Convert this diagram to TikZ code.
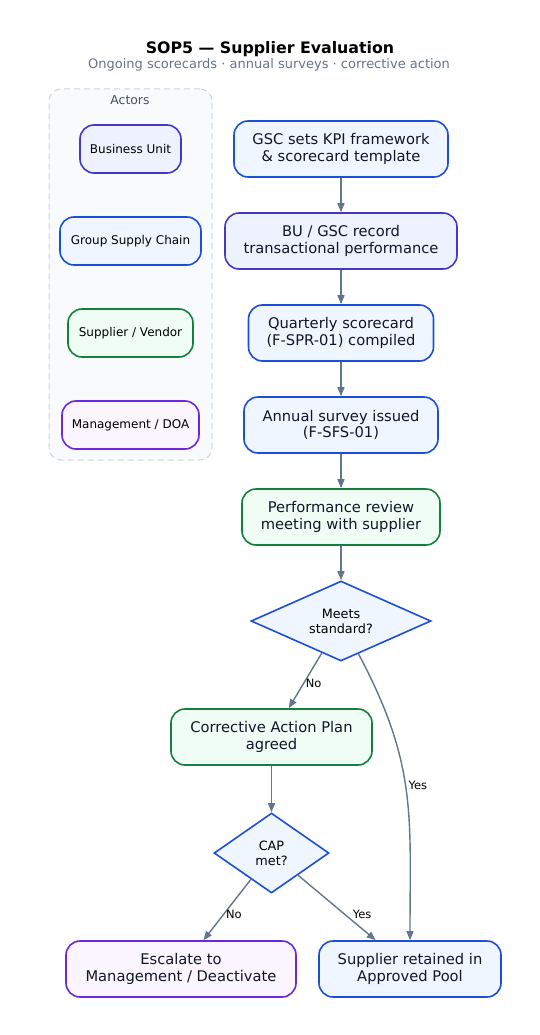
\documentclass[tikz,border=0pt]{standalone}
\usepackage{fontspec}
\setmainfont{DejaVu Sans}
\usetikzlibrary{shapes.geometric,arrows.meta}
\definecolor{txt}{HTML}{0F172A}
\definecolor{sub}{HTML}{64748B}
\definecolor{arr}{HTML}{64748B}
\definecolor{bluD}{HTML}{1D4ED8}\definecolor{bluF}{HTML}{EFF6FF}
\definecolor{indD}{HTML}{4338CA}\definecolor{indF}{HTML}{EEF2FF}
\definecolor{grnD}{HTML}{15803D}\definecolor{grnF}{HTML}{F0FDF4}
\definecolor{purD}{HTML}{6D28D9}\definecolor{purF}{HTML}{FAF5FF}
\definecolor{panD}{HTML}{CBD5E1}\definecolor{panF}{HTML}{F8FAFC}
\tikzset{
  box/.style={draw, line width=1.6pt, rounded corners=14pt, align=center, text=txt,
    inner sep=0pt, font=\fontsize{14.7}{16.5}\selectfont},
  abox/.style={box, font=\fontsize{12}{14}\selectfont, text=black},
  bluebox/.style={fill=bluF, draw=bluD},
  indbox/.style={fill=indF, draw=indD},
  grnbox/.style={fill=grnF, draw=grnD},
  purbox/.style={fill=purF, draw=purD},
  dia/.style={diamond, draw=bluD, fill=bluF, line width=1.6pt, inner sep=0pt},
  diatext/.style={align=center, text=black, inner sep=0pt, font=\fontsize{12.8}{15}\selectfont},
  flow/.style={draw=arr, line width=1.4pt, -{Triangle[length=9pt,width=7pt]}},
  lbl/.style={font=\fontsize{11.5}{13}\selectfont, text=black, inner sep=1.5pt}
}
\begin{document}
\begin{tikzpicture}[x=1pt,y=-1pt]
\useasboundingbox (0,0) rectangle (539,1035);
\node[font=\bfseries\fontsize{15.8}{18}\selectfont, text=black] (title) at (270,49) {SOP5 — Supplier Evaluation};
\node[font=\fontsize{13}{15}\selectfont, text=sub] (subtitle) at (269,64.5) {Ongoing scorecards · annual surveys · corrective action};
% actors panel
\node[draw=panD, fill=panF, dashed, dash pattern=on 6pt off 4pt, line width=1pt, rounded corners=12pt,
  minimum width=163pt, minimum height=371pt, inner sep=0pt] (panel) at (130.5,274.5) {};
\node[font=\fontsize{12.4}{14}\selectfont, text=sub!70!black] (actors) at (130,100.5) {Actors};
\node[abox, indbox, minimum width=101pt, minimum height=48pt] (bu) at (130.5,149) {Business Unit};
\node[abox, bluebox, minimum width=141pt, minimum height=48pt] (gsc) at (130.5,241) {Group Supply Chain};
\node[abox, grnbox, minimum width=125pt, minimum height=48pt] (sv) at (130.5,333) {Supplier / Vendor};
\node[abox, purbox, minimum width=137pt, minimum height=48pt] (mg) at (130.5,425) {Management / DOA};
% main flow
\node[box, bluebox, minimum width=214pt, minimum height=56pt] (n1) at (341,149) {GSC sets KPI framework\\\& scorecard template};
\node[box, indbox, minimum width=232pt, minimum height=56pt] (n2) at (341,241) {BU / GSC record\\transactional performance};
\node[box, bluebox, minimum width=185pt, minimum height=56pt] (n3) at (341,333) {Quarterly scorecard\\(F-SPR-01) compiled};
\node[box, bluebox, minimum width=194pt, minimum height=56pt] (n4) at (341,425) {Annual survey issued\\(F-SFS-01)};
\node[box, grnbox, minimum width=198pt, minimum height=56pt] (n5) at (341,517) {Performance review\\meeting with supplier};
\node[dia, minimum width=180pt, minimum height=80pt] (d1) at (341,621) {};
\node[diatext] (d1t) at (d1.center) {Meets\\standard?};
\node[box, grnbox, minimum width=201pt, minimum height=56pt] (n6) at (271.5,737) {Corrective Action Plan\\agreed};
\node[dia, minimum width=115pt, minimum height=80pt] (d2) at (271.5,853) {};
\node[diatext] (d2t) at (d2.center) {CAP\\met?};
\node[box, purbox, minimum width=230pt, minimum height=56pt] (n7) at (181,969) {Escalate to\\Management / Deactivate};
\node[box, bluebox, minimum width=182pt, minimum height=56pt] (n8) at (410,969) {Supplier retained in\\Approved Pool};
% connectors
\draw[flow] (n1) -- (n2);
\draw[flow] (n2) -- (n3);
\draw[flow] (n3) -- (n4);
\draw[flow] (n4) -- (n5);
\draw[flow] (n5) -- (d1);
\draw[flow] (d1) -- node[lbl, pos=0.55, anchor=west] {No} (n6);
\draw[flow] (d1) to[out=-62, in=90, looseness=1.1] node[lbl, pos=0.5, anchor=south west] {Yes} (n8.north);
\draw[flow] (n6) -- (d2);
\draw[flow] (d2) -- node[lbl, pos=0.57, anchor=west] {No} (n7);
\draw[flow] (d2) -- node[lbl, pos=0.6, anchor=west, xshift=6pt] {Yes} (n8);
\end{tikzpicture}
\end{document}
